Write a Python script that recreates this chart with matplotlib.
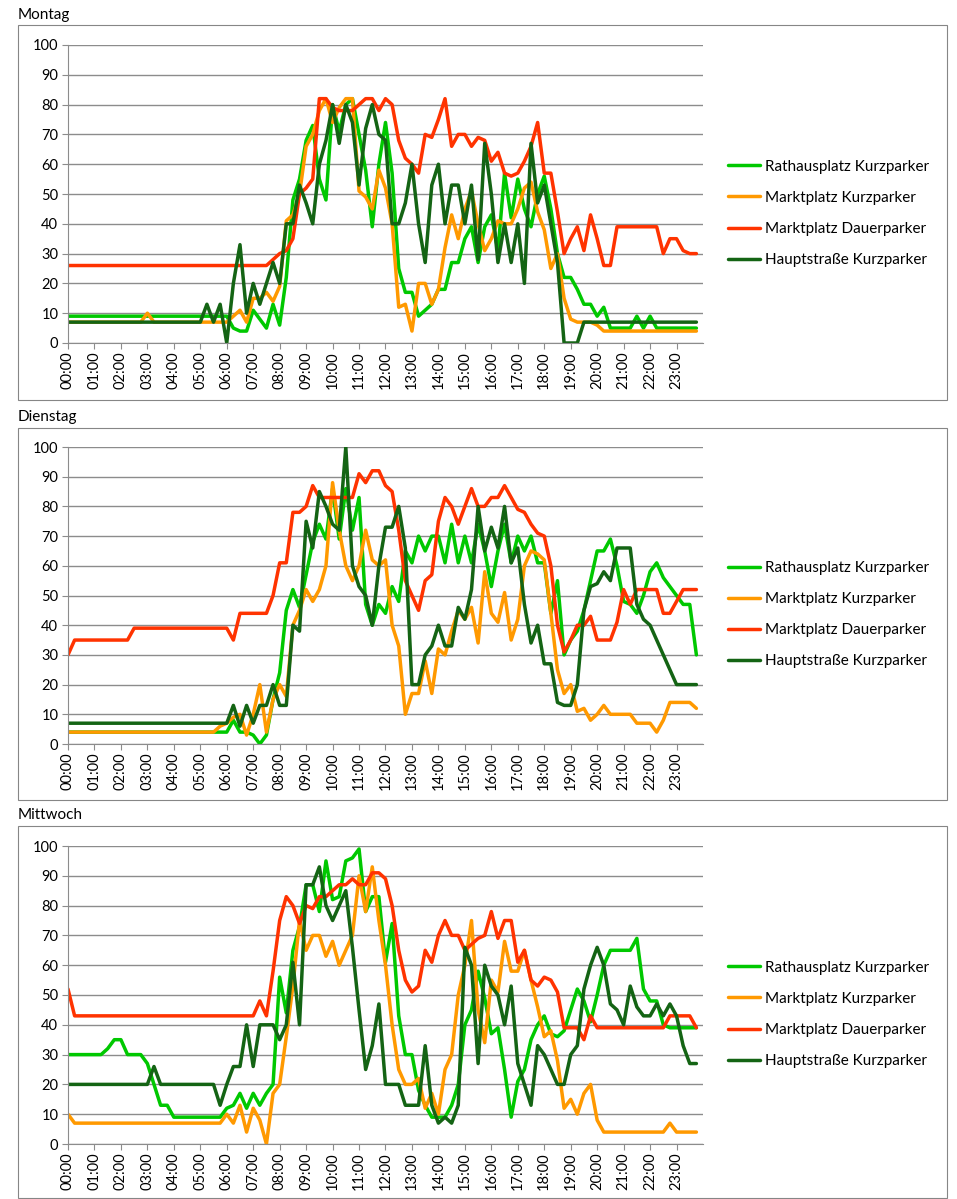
import numpy as np
import matplotlib
matplotlib.use('Agg')
import matplotlib.pyplot as plt
from matplotlib.patches import Rectangle

plt.rcParams['font.family'] = ['Lato', 'DejaVu Sans']

# 15-minute values, 4 per hour, 00:00 .. 23:45
hours = np.arange(96) / 4
time_labels = [f"{h:02d}:00" for h in range(24)]
series_names = ["Rathausplatz Kurzparker", "Marktplatz Kurzparker",
                "Marktplatz Dauerparker", "Hauptstraße Kurzparker"]
series_colors = ["#00C800", "#FF9900", "#FF3300", "#146414"]

# Montag
mo_rathaus = ([9] * 24 +
              [9, 5, 4, 4, 11, 8, 5, 13, 6, 22, 48, 55, 68, 73, 55, 48,
               80, 71, 80, 82, 70, 58, 39, 60, 74, 57, 25, 17, 17, 9, 11, 13,
               18, 18, 27, 27, 35, 39, 27, 39, 43, 31, 57, 42, 55, 45, 39, 50,
               56, 45, 30, 22, 22, 18, 13, 13, 9, 12, 5, 5, 5, 5, 9, 5,
               9, 5, 5, 5, 5, 5, 5, 5])
mo_markt_kurz = ([7] * 12 + [10, 7, 7, 7] + [7] * 8 +
                 [7, 9, 11, 7, 15, 15, 17, 14, 19, 41, 43, 50, 66, 70, 78, 82,
                  74, 79, 82, 82, 51, 49, 45, 58, 52, 40, 12, 13, 4, 20, 20, 13,
                  18, 32, 43, 35, 45, 51, 40, 31, 35, 41, 40, 40, 45, 52, 54, 44,
                  38, 25, 30, 15, 8, 7, 7, 7, 6, 4, 4, 4] + [4] * 12)
mo_markt_dauer = ([26] * 28 +
                  [26, 26, 26, 28, 30, 31, 35, 50, 52, 55, 82, 82,
                   79, 78, 78, 78, 80, 82, 82, 78, 82, 80, 68, 62, 60, 57, 70, 69,
                   75, 82, 66, 70, 70, 66, 69, 68, 61, 64, 57, 56, 57, 61, 66, 74,
                   57, 57, 44, 30, 35, 39, 31, 43, 35, 26, 26, 39, 39, 39, 39, 39,
                   39, 39, 30, 35, 35, 31, 30, 30])
mo_haupt = ([7] * 20 +
            [7, 13, 7, 13, 0, 20, 33, 10, 20, 13, 20, 27, 20, 40, 40, 53,
             47, 40, 60, 68, 80, 67, 80, 74, 53, 72, 80, 70, 68, 40, 40, 47,
             60, 40, 27, 53, 60, 40, 53, 53, 40, 53, 28, 67, 50, 27, 40, 27,
             40, 20, 67, 47, 53, 40, 27, 0, 0, 0, 7, 7] + [7] * 16)

# Dienstag
di_rathaus = ([4] * 24 +
              [4, 8, 4, 4, 3, 0, 3, 15, 24, 45, 52, 46, 57, 68, 74, 69,
               86, 69, 86, 72, 83, 47, 40, 47, 44, 53, 48, 65, 61, 70, 65, 70,
               70, 61, 74, 61, 70, 61, 74, 65, 53, 65, 74, 61, 70, 65, 70, 61,
               61, 44, 55, 30, 35, 38, 45, 55, 65, 65, 69, 60, 48, 47, 44, 50,
               58, 61, 56, 53, 50, 47, 47, 30])
di_markt_kurz = ([4] * 20 +
                 [4, 4, 4, 6, 7, 9, 10, 3, 10, 20, 4, 15, 20, 16, 40, 45,
                  52, 48, 52, 60, 88, 72, 60, 55, 60, 72, 62, 60, 62, 40, 33, 10,
                  17, 17, 28, 17, 32, 30, 38, 45, 42, 46, 34, 58, 44, 41, 51, 35,
                  42, 60, 65, 64, 62, 44, 25, 17, 20, 11, 12, 8, 10, 13, 10, 10,
                  10, 10, 7, 7, 7, 4, 8, 14, 14, 14, 14, 12])
di_markt_dauer = ([30, 35, 35, 35, 35, 35, 35, 35, 35, 35, 39, 39] + [39] * 12 +
                  [39, 35, 44, 44, 44, 44, 44, 50, 61, 61, 78, 78, 80, 87, 83, 83,
                   83, 83, 83, 83, 91, 88, 92, 92, 87, 85, 72, 55, 50, 45, 55, 57,
                   75, 83, 80, 74, 80, 86, 80, 80, 83, 83, 87, 83, 79, 78, 74, 71,
                   70, 60, 40, 31, 35, 40, 40, 43, 35, 35, 35, 41, 52, 47, 52, 52,
                   52, 52, 44, 44, 48, 52, 52, 52])
di_haupt = ([7] * 24 +
            [7, 13, 6, 13, 7, 13, 13, 20, 13, 13, 40, 38, 75, 66, 85, 80,
             74, 72, 100, 60, 53, 50, 40, 60, 73, 73, 80, 66, 20, 20, 30, 33,
             40, 33, 33, 46, 42, 52, 80, 65, 73, 66, 80, 61, 66, 47, 34, 40,
             27, 27, 14, 13, 13, 20, 45, 53, 54, 58, 55, 66, 66, 66, 47, 42,
             40, 35, 30, 25, 20, 20, 20, 20])

# Mittwoch
mi_rathaus = ([30, 30, 30, 30, 30, 30, 32, 35, 35, 30, 30, 30, 27, 20, 13, 13] +
              [9] * 8 +
              [12, 13, 17, 12, 17, 13, 17, 20, 56, 44, 65, 73, 87, 87, 78, 95,
               82, 83, 95, 96, 99, 78, 83, 83, 61, 74, 43, 30, 30, 18, 13, 9,
               9, 9, 13, 20, 40, 45, 58, 49, 37, 39, 25, 9, 21, 25, 35, 40,
               43, 37, 36, 38, 45, 52, 48, 41, 50, 60, 65, 65, 65, 65, 69, 52,
               48, 48, 40, 39, 39, 39, 39, 39])
mi_markt_kurz = ([10, 7, 7, 7] + [7] * 20 +
                 [10, 7, 13, 4, 12, 8, 0, 17, 20, 36, 53, 75, 65, 70, 70, 63,
                  68, 60, 65, 70, 90, 78, 93, 75, 60, 40, 25, 20, 20, 22, 12, 17,
                  10, 25, 30, 50, 60, 75, 45, 34, 55, 51, 68, 58, 58, 65, 55, 46,
                  36, 38, 28, 12, 15, 10, 17, 20, 8, 4, 4, 4, 4, 4, 4, 4,
                  4, 4, 4, 7, 4, 4, 4, 4])
mi_markt_dauer = ([52, 43, 43, 43] + [43] * 24 +
                  [43, 48, 43, 58, 75, 83, 80, 74, 80, 79, 83, 83,
                   85, 87, 87, 89, 87, 87, 91, 91, 89, 80, 65, 55, 51, 53, 65, 61,
                   70, 75, 70, 70, 65, 67, 69, 70, 78, 69, 75, 75, 61, 65, 55, 53,
                   56, 55, 51, 39, 39, 39, 35, 43, 39, 39, 39, 39, 39, 39, 39, 39,
                   39, 39, 39, 43, 43, 43, 43, 39])
mi_haupt = ([20] * 12 + [20, 26, 20, 20] + [20] * 4 + [20, 20, 20, 13] +
            [20, 26, 26, 40, 26, 40, 40, 40, 35, 40, 61, 40, 87, 87, 93, 80,
             75, 80, 85, 66, 45, 25, 33, 47, 20, 20, 20, 13, 13, 13, 33, 13,
             7, 9, 7, 13, 66, 60, 27, 60, 53, 50, 40, 53, 27, 20, 13, 33,
             30, 25, 20, 20, 30, 33, 52, 60, 66, 60, 47, 45, 40, 53, 46, 43,
             43, 47, 43, 47, 43, 33, 27, 27])

days = [
    ("Montag", [mo_rathaus, mo_markt_kurz, mo_markt_dauer, mo_haupt]),
    ("Dienstag", [di_rathaus, di_markt_kurz, di_markt_dauer, di_haupt]),
    ("Mittwoch", [mi_rathaus, mi_markt_kurz, mi_markt_dauer, mi_haupt]),
]

W, H = 957, 1199
fig = plt.figure(figsize=(W / 100, H / 100), dpi=100)

# pixel layout of each panel: title y, box top, box bottom, plot top, plot bottom
layout = [(15, 25, 400, 45, 343), (417, 428, 800, 447, 744), (815, 826, 1198, 846, 1144)]
plot_left, plot_right = 68, 703
grid_col = "#8C8C8C"

for (day, data), (ty, btop, bbot, ptop, pbot) in zip(days, layout):
    fig.text(18 / W, 1 - ty / H, day, fontsize=11, va="center", ha="left")
    fig.add_artist(Rectangle((18 / W, 1 - bbot / H), (947 - 18) / W, (bbot - btop) / H,
                             transform=fig.transFigure, fill=False,
                             edgecolor="#868686", lw=0.8))
    ax = fig.add_axes([plot_left / W, 1 - pbot / H, (plot_right - plot_left) / W,
                       (pbot - ptop) / H])
    for vals, name, col in zip(data, series_names, series_colors):
        assert len(vals) == 96
        ax.plot(hours, vals, color=col, lw=2.5, label=name,
                solid_joinstyle="round", solid_capstyle="round")
    ax.set_xlim(0, 24)
    ax.set_ylim(0, 100)
    ax.set_yticks(range(0, 101, 10))
    ax.set_xticks(range(24))
    ax.set_xticklabels(time_labels, rotation=90, fontsize=10.5)
    ax.tick_params(axis="y", labelsize=10.5, length=4, color=grid_col, pad=3)
    ax.tick_params(axis="x", length=4, color=grid_col, pad=2)
    ax.yaxis.grid(True, color=grid_col, lw=1)
    ax.set_axisbelow(True)
    for s in ["top", "right"]:
        ax.spines[s].set_visible(False)
    for s in ["left", "bottom"]:
        ax.spines[s].set_color(grid_col)
    ax.legend(loc="center left", bbox_to_anchor=(1.039, 0.435), frameon=False,
              borderpad=0, borderaxespad=0, handlelength=2.1, handletextpad=0.33,
              labelspacing=1.12, fontsize=11)

fig.savefig("out.png", dpi=100)
